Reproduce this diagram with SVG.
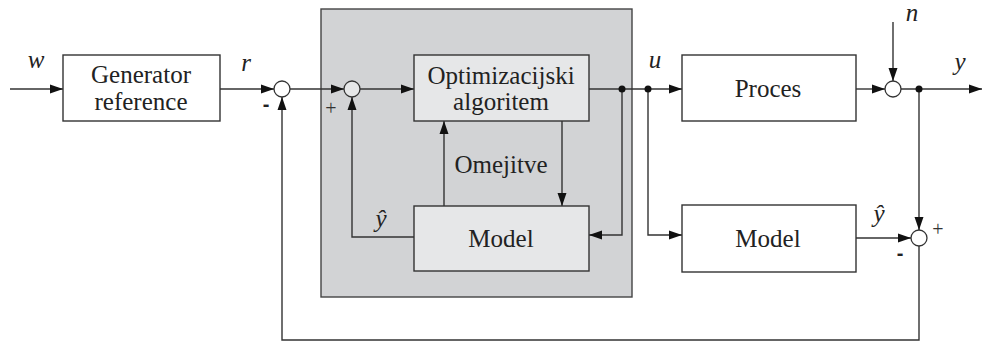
<svg xmlns="http://www.w3.org/2000/svg" width="982" height="343" viewBox="0 0 982 343">
<style>
.box{fill:#fff;stroke:#333;stroke-width:1.4}
.ibox{fill:#e6e7e8;stroke:#333;stroke-width:1.4}
.sum{fill:#fff;stroke:#333;stroke-width:1.3}
.isum{fill:#e6e7e8;stroke:#333;stroke-width:1.3}
.ln{fill:none;stroke:#333;stroke-width:1.4;marker-end:url(#ah)}
.dot{fill:#111}
</style>
<defs>
<marker id="ah" markerUnits="userSpaceOnUse" markerWidth="14" markerHeight="10" refX="13" refY="5" orient="auto">
<path d="M0,0.5 L13,5 L0,9.5 z" fill="#111"/>
</marker>
</defs>
<rect id="optblock" x="321" y="9" width="311" height="288" fill="#d2d3d5" stroke="#444" stroke-width="1.4"/>
<g id="connectors">
<path class="ln" d="M10,89 H63"/>
<path class="ln" d="M220,89 H274"/>
<path class="ln" d="M290,89 H344"/>
<path class="ln" d="M360,89 H414"/>
<path class="ln" d="M589,89 H682"/>
<path class="ln" d="M622,89 V235 H589"/>
<path class="ln" d="M648,89 V235 H682"/>
<path class="ln" d="M562,121 V206"/>
<path class="ln" d="M444,206 V121"/>
<path class="ln" d="M414,237 H352 V97"/>
<path class="ln" d="M856,89 H885"/>
<path class="ln" d="M893,22 V81"/>
<path class="ln" d="M901,89 H982"/>
<path class="ln" d="M919,89 V230"/>
<path class="ln" d="M856,238 H911"/>
<path class="ln" d="M919,246 V340 H282 V97"/>
<circle class="dot" cx="622" cy="89" r="3.5"/>
<circle class="dot" cx="648" cy="89" r="3.5"/>
<circle class="dot" cx="919" cy="89" r="3.5"/>
</g>
<g id="generator">
<rect class="box" x="63" y="55" width="157" height="66"/>
<text x="141" y="83" font-family="Liberation Serif, Tinos, serif" font-size="25" fill="#222" text-anchor="middle">Generator</text>
<text x="141" y="110" font-family="Liberation Serif, Tinos, serif" font-size="25" fill="#222" text-anchor="middle">reference</text>
</g>
<g id="sum1">
<circle class="sum" cx="282" cy="89" r="8"/>
<text x="266" y="111" font-family="Liberation Sans, sans-serif" font-size="20" font-weight="bold" fill="#222" text-anchor="middle">-</text>
</g>
<g id="sum2">
<circle class="isum" cx="352" cy="89" r="8"/>
<text x="331" y="115" font-family="Liberation Serif, Tinos, serif" font-size="20" fill="#333" text-anchor="middle">+</text>
</g>
<g id="optimizer">
<rect class="ibox" x="414" y="55" width="175" height="66"/>
<text x="501" y="84" font-family="Liberation Serif, Tinos, serif" font-size="25" fill="#222" text-anchor="middle">Optimizacijski</text>
<text x="501" y="110" font-family="Liberation Serif, Tinos, serif" font-size="25" fill="#222" text-anchor="middle">algoritem</text>
</g>
<g id="model-inner">
<rect class="ibox" x="414" y="206" width="175" height="65"/>
<text x="501" y="247" font-family="Liberation Serif, Tinos, serif" font-size="25" fill="#222" text-anchor="middle">Model</text>
</g>
<g id="proces">
<rect class="box" x="682" y="55" width="174" height="66"/>
<text x="768" y="97" font-family="Liberation Serif, Tinos, serif" font-size="25" fill="#222" text-anchor="middle">Proces</text>
</g>
<g id="model">
<rect class="box" x="682" y="205" width="174" height="67"/>
<text x="768" y="247" font-family="Liberation Serif, Tinos, serif" font-size="25" fill="#222" text-anchor="middle">Model</text>
</g>
<g id="sum3">
<circle class="sum" cx="893" cy="89" r="8"/>
</g>
<g id="sum4">
<circle class="sum" cx="919" cy="238" r="8"/>
<text x="938" y="236" font-family="Liberation Serif, Tinos, serif" font-size="20" fill="#333" text-anchor="middle">+</text>
<text x="900" y="260" font-family="Liberation Sans, sans-serif" font-size="20" font-weight="bold" fill="#222" text-anchor="middle">-</text>
</g>
<g id="labels">
<text x="36" y="68" font-family="Liberation Serif, Tinos, serif" font-size="25" font-style="italic" fill="#222" text-anchor="middle">w</text>
<text x="246" y="71" font-family="Liberation Serif, Tinos, serif" font-size="25" font-style="italic" fill="#222" text-anchor="middle">r</text>
<text x="501" y="173" font-family="Liberation Serif, Tinos, serif" font-size="25" fill="#222" text-anchor="middle">Omejitve</text>
<text x="381" y="227" font-family="Liberation Serif, Tinos, serif" font-size="25" font-style="italic" fill="#222" text-anchor="middle">ŷ</text>
<text x="655" y="68" font-family="Liberation Serif, Tinos, serif" font-size="25" font-style="italic" fill="#222" text-anchor="middle">u</text>
<text x="912" y="21" font-family="Liberation Serif, Tinos, serif" font-size="25" font-style="italic" fill="#222" text-anchor="middle">n</text>
<text x="960" y="70" font-family="Liberation Serif, Tinos, serif" font-size="25" font-style="italic" fill="#222" text-anchor="middle">y</text>
<text x="879" y="222" font-family="Liberation Serif, Tinos, serif" font-size="25" font-style="italic" fill="#222" text-anchor="middle">ŷ</text>
</g>
</svg>
